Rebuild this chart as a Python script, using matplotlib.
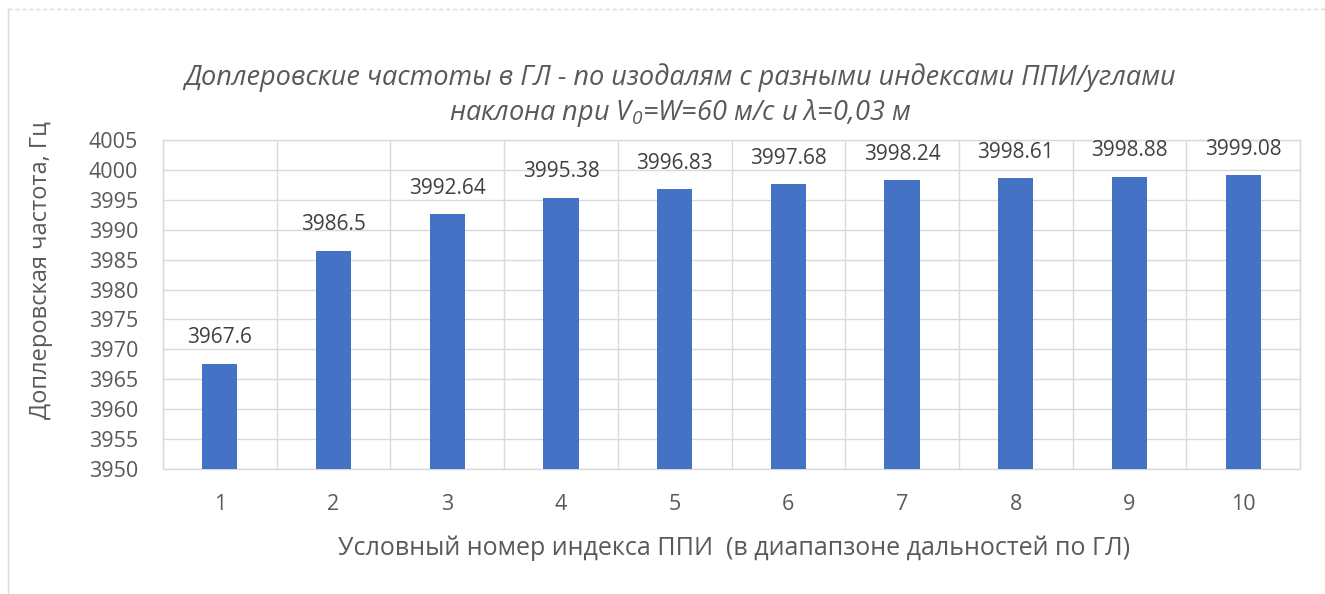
import matplotlib
matplotlib.use("Agg")
import matplotlib.pyplot as plt
from matplotlib.ticker import FixedLocator
from matplotlib.lines import Line2D

categories = [1, 2, 3, 4, 5, 6, 7, 8, 9, 10]
values = [3967.6, 3986.5, 3992.64, 3995.38, 3996.83, 3997.68, 3998.24, 3998.61, 3998.88, 3999.08]
labels = ["3967.6", "3986.5", "3992.64", "3995.38", "3996.83", "3997.68", "3998.24", "3998.61", "3998.88", "3999.08"]
yticks = list(range(3950, 4006, 5))

title1 = "Доплеровские частоты в ГЛ - по изодалям с разными индексами ППИ/углами"
title2 = "наклона при V$_0$=W=60 м/с и λ=0,03 м"
xlabel = "Условный номер индекса ППИ  (в диапапзоне дальностей по ГЛ)"
ylabel = "Доплеровская частота, Гц"

fam = ["Open Sans", "DejaVu Sans"]
plt.rcParams['font.family'] = fam
plt.rcParams['mathtext.fontset'] = 'custom'
plt.rcParams['mathtext.rm'] = 'Open Sans:italic'
plt.rcParams['mathtext.it'] = 'Open Sans:italic'
plt.rcParams['mathtext.default'] = 'it'

txt = "#595959"
grid = "#d9d9d9"
bar_c = "#4472C4"

fig = plt.figure(figsize=(13.25, 5.94), dpi=100)
ax = fig.add_axes([163/1325, 1-469/594, (1300-163)/1325, (469-140)/594])

ax.bar(categories, [v - 3950 for v in values], bottom=3950, width=0.31, color=bar_c, zorder=3)
for x, v, l in zip(categories, values, labels):
    ax.annotate(l, (x, v), xytext=(0, 11), textcoords="offset points", ha="center", va="bottom",
                fontsize=15, color="#404040", zorder=4)

ax.set_xlim(0.5, 10.5)
ax.set_ylim(3950, 4005)
ax.set_yticks(yticks)
ax.set_xticks(categories)
ax.xaxis.set_minor_locator(FixedLocator([i + 0.5 for i in range(0, 11)]))
ax.grid(True, axis="y", which="major", color=grid, lw=1, zorder=0)
ax.grid(True, axis="x", which="minor", color=grid, lw=1, zorder=0)
ax.tick_params(axis="both", which="both", length=0)
ax.tick_params(axis="y", labelsize=15.5, labelcolor=txt, pad=18)
ax.tick_params(axis="x", labelsize=15.5, labelcolor=txt, pad=18)
for s in ax.spines.values():
    s.set_color(grid)
    s.set_linewidth(1)

fig.text(680/1325, 1 - 78/594, title1, ha="center", va="center", fontsize=19.5, style="italic", color=txt)
fig.text(680/1325, 1 - 113/594, title2, ha="center", va="center", fontsize=19.5, style="italic", color=txt)
fig.text(734/1325, 1 - 548/594, xlabel, ha="center", va="center", fontsize=18, color=txt)
fig.text(41/1325, 1 - 270/594, ylabel, ha="center", va="center", rotation=90, fontsize=17, color=txt)

# outer chart frame
fig.add_artist(Line2D([8/1325, 8/1325], [0, 1 - 9/594], transform=fig.transFigure, color=grid, lw=1))
fig.add_artist(Line2D([8/1325, 1], [1 - 9/594, 1 - 9/594], transform=fig.transFigure, color=grid, lw=1, ls=(0, (3, 2))))

fig.savefig("out.png", dpi=100, facecolor="white")
